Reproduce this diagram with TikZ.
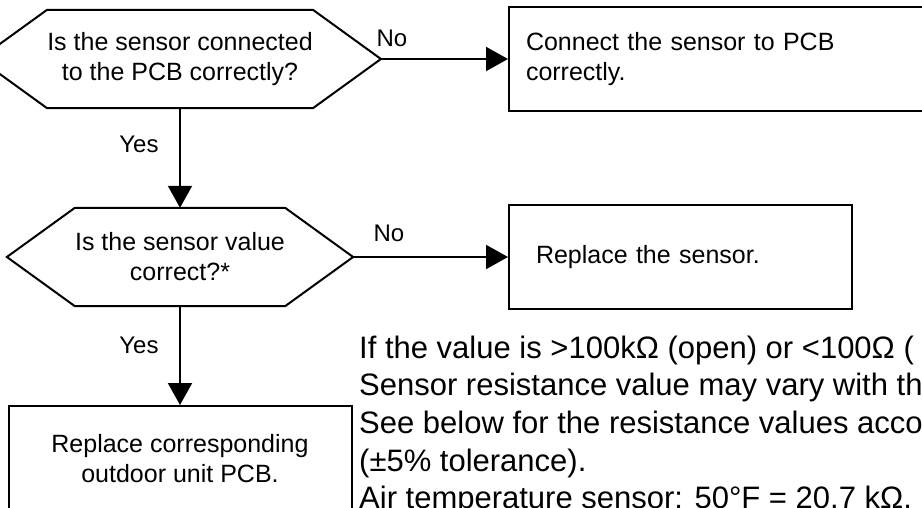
\documentclass[tikz,border=0pt]{standalone}
\usepackage{fontspec}
\setmainfont{Liberation Sans}
\usetikzlibrary{arrows.meta,positioning}

\begin{document}
\begin{tikzpicture}[x=1pt, y=-1pt,
    box/.style={draw, line width=2pt, inner sep=0pt, font=\fontsize{25}{30}\selectfont},
    decision/.style={inner sep=0pt, minimum width=204pt, minimum height=98pt, align=center, font=\fontsize{25}{30}\selectfont},
    lbl/.style={font=\fontsize{24}{28}\selectfont, inner sep=0pt, anchor=base},
    note/.style={font=\fontsize{31}{37.7}\selectfont, align=left, inner sep=0pt, anchor=north west},
    arr/.style={-{Triangle[length=22pt, width=24pt]}, line width=2pt}
]
\useasboundingbox (0,0) rectangle (922,508);
\clip (0,0) rectangle (922,508);

% decisions
\node[decision] (q1) at (180,59) {Is the sensor connected\\to the PCB correctly?};
\node[decision] (q2) at (180,257) {Is the sensor value\\correct?*};
\foreach \q in {q1,q2}
  \draw[line width=2pt] (\q.north west) -- (\q.north east)
    -- ([xshift=68pt]\q.east) coordinate (\q-tip)
    -- (\q.south east) -- (\q.south west) -- ([xshift=-68pt]\q.west) -- cycle;

% actions
\node[box, minimum width=452pt, minimum height=104pt, text width=418pt, align=left, anchor=west] (a1) at (508,59) {Connect the sensor to PCB\\correctly.};
\node[box, minimum width=343pt, minimum height=103pt, text width=289pt, align=left, anchor=west] (a2) at (508,257) {Replace the sensor.};
\node[box, minimum width=343pt, minimum height=106pt, align=center] (a3) at (180,459) {Replace corresponding\\outdoor unit PCB.};

% branch labels
\node[lbl] (no1) at (392,47) {No};
\node[lbl] (yes1) at (139,153) {Yes};
\node[lbl] (no2) at (389,242) {No};
\node[lbl] (yes2) at (139,353) {Yes};

\draw[arr] (q1-tip) -- (a1);
\draw[arr] (q1) -- (q2);
\draw[arr] (q2-tip) -- (a2);
\draw[arr] (q2) -- (a3);

% note on sensor values
\node[note] (note) at (359,335.5) {If the value is >100kΩ (open) or <100Ω (\\
Sensor resistance value may vary with th\\
See below for the resistance values acco\\
(±5\% tolerance).\\
Air temperature sensor: 50°F = 20.7 kΩ.};
\end{tikzpicture}
\end{document}
